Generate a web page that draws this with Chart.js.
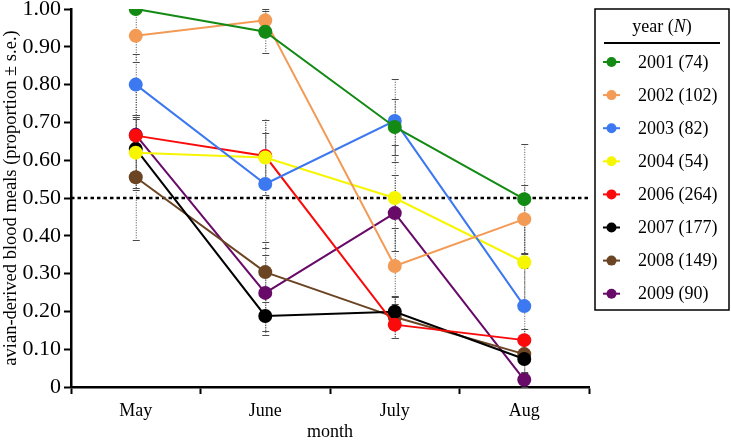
<!DOCTYPE html>
<html>
<head>
<meta charset="utf-8">
<script src="https://cdn.jsdelivr.net/npm/chart.js@4.4.1/dist/chart.umd.min.js"></script>
<style>
  html, body { margin: 0; padding: 0; background: #fff; }
  #wrap { width: 731px; height: 443px; position: relative; }
</style>
</head>
<body>
<div id="wrap"><canvas id="avianChart" width="731" height="443"></canvas></div>
<script>
const months = ["May", "June", "July", "Aug"];
const yTicks = [0, 0.1, 0.2, 0.3, 0.4, 0.5, 0.6, 0.7, 0.8, 0.9, 1.0];
const threshold = 0.5;

const yearLabels = ["2001 (74)", "2002 (102)", "2003 (82)", "2004 (54)", "2006 (264)", "2007 (177)", "2008 (149)", "2009 (90)"];
const yearColors = ["#138a13", "#f39a55", "#3c78f0", "#f6f600", "#fa0a0a", "#000000", "#6b4423", "#680a68"];

const p2001 = [1.0, 0.94, 0.688, 0.497];
const p2002 = [0.929, 0.97, 0.32, 0.444];
const p2003 = [0.80, 0.537, 0.704, 0.214];
const p2004 = [0.62, 0.607, 0.50, 0.33];
const p2006 = [0.665, 0.611, 0.165, 0.124];
const p2007 = [0.63, 0.188, 0.199, 0.074];
const p2008 = [0.555, 0.304, 0.185, 0.087];
const p2009 = [0.667, 0.249, 0.46, 0.019];

const se2001 = [0, 0.056, 0.075, 0.145];
const se2002 = [0.07, 0.03, 0.10, 0.09];
const se2003 = [0.08, 0.17, 0.11, 0.10];
const se2004 = [0.10, 0.10, 0.14, 0.12];
const se2006 = [0.05, 0.06, 0.035, 0.03];
const se2007 = [0.08, 0.05, 0.04, 0.04];
const se2008 = [0.165, 0.08, 0.055, 0.05];
const se2009 = [0.14, 0.10, 0.10, 0.02];

const seriesValues = [p2001, p2002, p2003, p2004, p2006, p2007, p2008, p2009];
const seriesErrors = [se2001, se2002, se2003, se2004, se2006, se2007, se2008, se2009];

const serif = "'Liberation Serif', 'DejaVu Serif', serif";

// dotted error bars behind the lines
const errorBarPlugin = {
  id: "errorBars",
  beforeDatasetsDraw(chart) {
    const { ctx, scales } = chart;
    ctx.save();
    ctx.strokeStyle = "#4a4a4a";
    ctx.lineWidth = 1;
    seriesValues.forEach((vals, i) => {
      vals.forEach((v, j) => {
        const e = seriesErrors[i][j];
        if (!e) return;
        const x = scales.x.getPixelForValue(j);
        const yTop = scales.y.getPixelForValue(Math.min(1, v + e));
        const yBot = scales.y.getPixelForValue(Math.max(0, v - e));
        ctx.setLineDash([1, 1.5]);
        ctx.beginPath();
        ctx.moveTo(x + 0.5, yTop);
        ctx.lineTo(x + 0.5, yBot);
        ctx.stroke();
        ctx.setLineDash([]);
        ctx.beginPath();
        ctx.moveTo(x - 3, Math.round(yTop) + 0.5);
        ctx.lineTo(x + 4, Math.round(yTop) + 0.5);
        ctx.moveTo(x - 3, Math.round(yBot) + 0.5);
        ctx.lineTo(x + 4, Math.round(yBot) + 0.5);
        ctx.stroke();
      });
    });
    // 0.50 reference line
    const y = scales.y.getPixelForValue(threshold);
    ctx.strokeStyle = "#000";
    ctx.lineWidth = 2.5;
    ctx.setLineDash([3.5, 3]);
    ctx.beginPath();
    ctx.moveTo(chart.chartArea.left, y);
    ctx.lineTo(chart.chartArea.right, y);
    ctx.stroke();
    ctx.restore();
  },
};

// boxed legend on the right
const boxLegendPlugin = {
  id: "boxLegend",
  afterDraw(chart) {
    const { ctx } = chart;
    const left = 595, top = 9, right = 729, bottom = 310;
    ctx.save();
    ctx.strokeStyle = "#000";
    ctx.lineWidth = 1.5;
    ctx.strokeRect(left, top, right - left, bottom - top);

    ctx.fillStyle = "#000";
    ctx.textBaseline = "middle";
    const t1 = "year (", t2 = "N", t3 = ")";
    ctx.font = "18px " + serif;
    const w1 = ctx.measureText(t1).width, w3 = ctx.measureText(t3).width;
    ctx.font = "italic 18px " + serif;
    const w2 = ctx.measureText(t2).width;
    const tx = 662 - (w1 + w2 + w3) / 2;
    ctx.textAlign = "left";
    ctx.font = "18px " + serif;
    ctx.fillText(t1, tx, 27);
    ctx.font = "italic 18px " + serif;
    ctx.fillText(t2, tx + w1, 27);
    ctx.font = "18px " + serif;
    ctx.fillText(t3, tx + w1 + w2, 27);

    ctx.lineWidth = 2;
    ctx.beginPath();
    ctx.moveTo(604, 43);
    ctx.lineTo(720, 43);
    ctx.stroke();

    chart.data.datasets.forEach((ds, i) => {
      const y = 62 + i * 33.1;
      ctx.strokeStyle = ds.borderColor;
      ctx.lineWidth = 2;
      ctx.beginPath();
      ctx.moveTo(603, y);
      ctx.lineTo(620, y);
      ctx.stroke();
      ctx.fillStyle = ds.backgroundColor;
      ctx.beginPath();
      ctx.arc(611.5, y, 5, 0, Math.PI * 2);
      ctx.fill();
      ctx.fillStyle = "#000";
      ctx.font = "18px " + serif;
      ctx.fillText(ds.label, 638, y + 1);
    });
    ctx.restore();
  },
};

const datasets = yearLabels.map((label, i) => ({
  label,
  data: seriesValues[i],
  borderColor: yearColors[i],
  backgroundColor: yearColors[i],
  borderWidth: 2,
  pointRadius: 7,
  pointBorderWidth: 0,
  pointHoverRadius: 7,
  tension: 0,
}));

new Chart(document.getElementById("avianChart").getContext("2d"), {
  type: "line",
  data: { labels: months, datasets },
  options: {
    responsive: false,
    animation: false,
    layout: { padding: { top: 9, right: 142, left: 0, bottom: 0 } },
    plugins: { legend: { display: false }, tooltip: { enabled: false } },
    scales: {
      x: {
        offset: true,
        grid: { display: true, offset: true, drawOnChartArea: false, drawTicks: true, tickLength: 7, tickColor: "#000", tickWidth: 2 },
        border: { display: true, color: "#000", width: 2.5 },
        ticks: { color: "#000", font: { family: serif, size: 18 }, padding: 6 },
        title: { display: true, text: "month", color: "#000", font: { family: serif, size: 18 }, padding: { top: 0, bottom: 0 } },
        afterFit: (s) => { s.height = 56; s.paddingLeft = 0; s.paddingRight = 0; },
      },
      y: {
        min: 0,
        max: 1,
        afterBuildTicks: (s) => { s.ticks = yTicks.map((v) => ({ value: v })); },
        grid: { display: true, drawOnChartArea: false, drawTicks: true, tickLength: 7, tickColor: "#000", tickWidth: 2 },
        border: { display: true, color: "#000", width: 2.5 },
        ticks: {
          color: "#000",
          font: { family: serif, size: 22 },
          padding: 3,
          callback: (v) => (v === 0 ? "0" : Number(v).toFixed(2)),
        },
        title: { display: true, text: "avian-derived blood meals (proportion ± s.e.)", color: "#000", font: { family: serif, size: 18.5 }, padding: { top: 0, bottom: 0 } },
        afterFit: (s) => { s.width = 71; s.paddingTop = 0; s.paddingBottom = 0; },
      },
    },
  },
  plugins: [errorBarPlugin, boxLegendPlugin],
});
</script>
</body>
</html>
